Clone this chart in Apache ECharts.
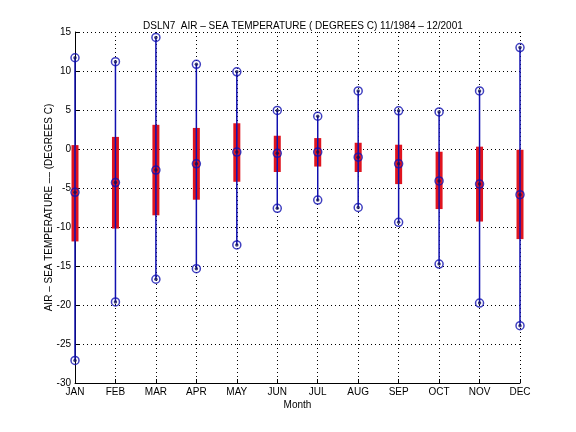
<!DOCTYPE html>
<html>
<head>
<meta charset="utf-8">
<script src="https://cdn.jsdelivr.net/npm/echarts@6/dist/echarts.min.js"></script>
<style>
  html, body { margin: 0; padding: 0; background: #fff; }
  #chart { width: 576px; height: 432px; }
</style>
</head>
<body>
<div id="chart"></div>
<script>
// monthly air - sea temperature statistics (degrees C)
var months = ['JAN', 'FEB', 'MAR', 'APR', 'MAY', 'JUN', 'JUL', 'AUG', 'SEP', 'OCT', 'NOV', 'DEC'];
var maxT  = [11.7, 11.2, 14.3, 10.85, 9.9, 4.95, 4.2, 7.45, 4.9, 4.75, 7.45, 13.0];
var minT  = [-27.1, -19.6, -16.7, -15.35, -12.3, -7.6, -6.55, -7.5, -9.4, -14.75, -19.75, -22.65];
var meanT = [-5.55, -4.3, -2.7, -1.9, -0.4, -0.55, -0.4, -1.05, -1.9, -4.1, -4.5, -5.85];
var upperT = [0.5, 1.55, 3.1, 2.7, 3.3, 1.7, 1.4, 0.8, 0.55, -0.35, 0.3, -0.1];
var lowerT = [-11.85, -10.2, -8.5, -6.5, -4.2, -2.95, -2.25, -2.95, -4.5, -7.7, -9.3, -11.55];
var yTicks = [-30, -25, -20, -15, -10, -5, 0, 5, 10, 15];

var BLUE = '#1010b0';
var RED = '#e0141e';
var FONT = 'Liberation Sans';

var boxData = [], rangeData = [], markData = [];
for (var i = 0; i < months.length; i++) {
    boxData.push([i, lowerT[i], upperT[i]]);
    rangeData.push([i, minT[i], maxT[i]]);
    markData.push([i, maxT[i]]);
    markData.push([i, minT[i]]);
    markData.push([i, meanT[i]]);
}

function vertical(width, color, isRect) {
    return function (params, api) {
        var x = api.value(0);
        var lo = api.coord([x, api.value(1)]);
        var hi = api.coord([x, api.value(2)]);
        if (isRect) {
            return {
                type: 'rect',
                shape: {x: lo[0] - width / 2, y: hi[1], width: width, height: lo[1] - hi[1]},
                style: {fill: color}
            };
        }
        return {
            type: 'line',
            shape: {x1: lo[0], y1: lo[1], x2: hi[0], y2: hi[1]},
            style: {stroke: color, lineWidth: width}
        };
    };
}

var chart = echarts.init(document.getElementById('chart'));
var gridLine = {show: true, lineStyle: {color: '#000', type: [1, 3], width: 1}};
chart.setOption({
    animation: false,
    backgroundColor: '#fff',
    title: {
        text: 'DSLN7  AIR \u2013 SEA TEMPERATURE ( DEGREES C) 11/1984 \u2013 12/2001',
        left: 138,
        top: 16,
        textStyle: {fontFamily: FONT, fontSize: 10, fontWeight: 'normal', color: '#000'}
    },
    grid: {left: 75, right: 56, top: 32, bottom: 49},
    xAxis: {
        type: 'category',
        data: months,
        boundaryGap: false,
        name: 'Month',
        nameLocation: 'middle',
        nameGap: 17,
        nameMoveOverlap: false,
        nameTextStyle: {fontFamily: FONT, fontSize: 10, color: '#000'},
        axisLine: {show: true, onZero: false, lineStyle: {color: '#000', width: 1}},
        axisTick: {show: true, inside: true, length: 4, lineStyle: {color: '#000'}},
        axisLabel: {fontFamily: FONT, fontSize: 10, color: '#000', margin: 4, interval: 0},
        splitLine: gridLine
    },
    yAxis: {
        type: 'value',
        min: yTicks[0],
        max: yTicks[yTicks.length - 1],
        interval: 5,
        name: 'AIR \u2013 SEA TEMPERATURE \u2013\u2013 (DEGREES C)',
        nameLocation: 'middle',
        nameGap: 21,
        nameMoveOverlap: false,
        nameTextStyle: {fontFamily: FONT, fontSize: 10, color: '#000'},
        axisLine: {show: true, onZero: false, lineStyle: {color: '#000', width: 1}},
        axisTick: {show: true, inside: true, length: 4, lineStyle: {color: '#000'}},
        axisLabel: {fontFamily: FONT, fontSize: 10, color: '#000', margin: 4},
        splitLine: gridLine
    },
    series: [
        {
            type: 'custom',
            renderItem: vertical(7, RED, true),
            data: boxData,
            clip: false,
            z: 2
        },
        {
            type: 'custom',
            renderItem: vertical(1.5, BLUE, false),
            data: rangeData,
            clip: false,
            z: 3
        },
        {
            type: 'scatter',
            data: markData,
            symbol: 'circle',
            symbolSize: 8,
            itemStyle: {color: 'rgba(0,0,0,0)', borderColor: BLUE, borderWidth: 1.5},
            z: 4
        },
        {
            type: 'scatter',
            data: markData,
            symbol: 'circle',
            symbolSize: 3.5,
            itemStyle: {color: '#10105a'},
            z: 5
        }
    ]
});
</script>
</body>
</html>
